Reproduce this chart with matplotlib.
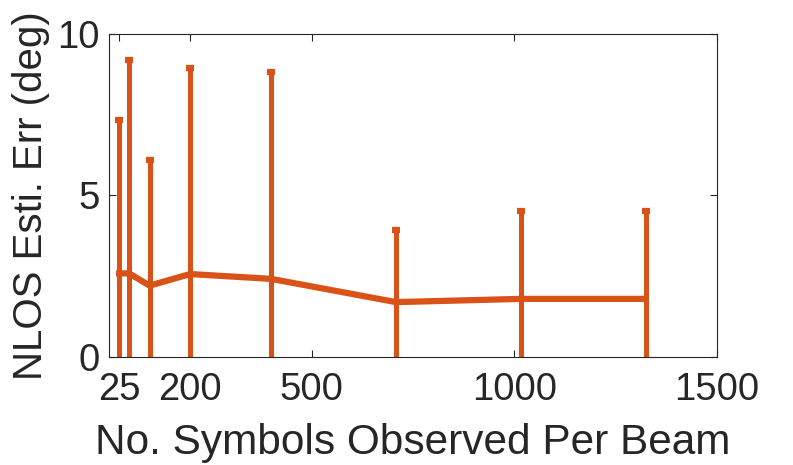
import matplotlib
matplotlib.use("Agg")
import matplotlib.pyplot as plt

plt.rcParams['font.family'] = ['Liberation Sans', 'DejaVu Sans']

# symbols observed per beam vs NLOS estimation error
n_symbols = [25, 50, 100, 200, 400, 708, 1016, 1325]
mean_err = [2.58, 2.58, 2.20, 2.56, 2.41, 1.69, 1.79, 1.79]
err_bar = [4.75, 6.60, 3.90, 6.38, 6.40, 2.24, 2.73, 2.73]

x_ticks = [25, 200, 500, 1000, 1500]
y_ticks = [0, 5, 10]

color = '#D95319'
axis_col = '#262626'

fig = plt.figure(figsize=(7.93, 4.65), dpi=100)
ax = fig.add_axes([0.1375, 0.233, 0.7665, 0.694])

ax.errorbar(n_symbols, mean_err, yerr=err_bar, color=color, linewidth=4.5,
            elinewidth=3.6, capsize=3.2, capthick=4.5, clip_on=True)

ax.set_xlim(0, 1500)
ax.set_ylim(0, 10)
ax.set_xticks(x_ticks)
ax.set_yticks(y_ticks)
ax.tick_params(direction='in', length=5, width=0.8, colors=axis_col,
               labelsize=27.5, top=True, right=True)
ax.tick_params(axis='x', pad=11)
ax.tick_params(axis='y', pad=7)
for s in ax.spines.values():
    s.set_color(axis_col)
    s.set_linewidth(0.8)

ax.set_xlabel('No. Symbols Observed Per Beam', fontsize=30.5, color=axis_col, labelpad=11)
ax.set_ylabel('NLOS Esti. Err (deg)', fontsize=29, color=axis_col, labelpad=5)

fig.savefig('out.png', dpi=100)
